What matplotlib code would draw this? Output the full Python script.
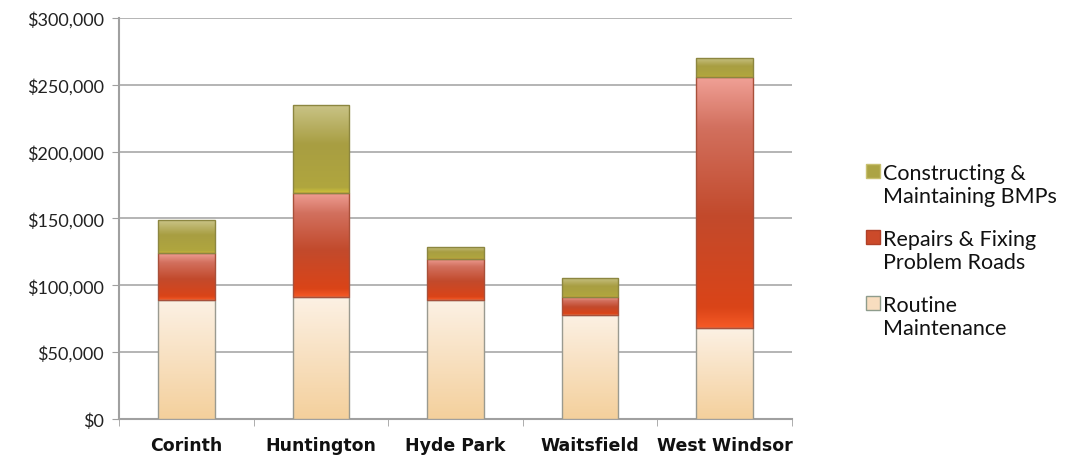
import numpy as np
import matplotlib
matplotlib.use("Agg")
import matplotlib.pyplot as plt
from matplotlib.colors import LinearSegmentedColormap
from matplotlib.patches import Rectangle
from matplotlib.ticker import FuncFormatter

# Road budget by town, stacked by spending category
towns = ["Corinth", "Huntington", "Hyde Park", "Waitsfield", "West Windsor"]
routine = [89000, 91000, 89000, 78000, 68000]
repairs = [35000, 78000, 31000, 13000, 187500]
bmps = [24500, 66000, 9000, 14500, 14500]
legend_lines = [("Constructing &", "Maintaining BMPs"),
                ("Repairs & Fixing", "Problem Roads"),
                ("Routine", "Maintenance")]
y_ticks = [0, 50000, 100000, 150000, 200000, 250000, 300000]

# gradient stops, bottom -> top
grad_routine = [(0.0, "#F4D09C"), (0.5, "#F8E0C0"), (1.0, "#FCF1E4")]
grad_repairs = [(0.0, "#F65A26"), (0.08, "#DA4418"), (0.45, "#C24A2C"),
                (0.8, "#D2705E"), (1.0, "#F0A096")]
grad_bmps = [(0.0, "#CEC23A"), (0.06, "#B0A63E"), (0.55, "#A89E42"),
             (1.0, "#CAC488")]
edge_colors = ["#9A9A90", "#A8503A", "#8C8640"]
# legend swatches, top entry first
swatch_faces = ["#ACA444", "#CC4A2A", "#F8DDBF"]
swatch_edges = ["#C8C070", "#B04028", "#8E9C8C"]

fig = plt.figure(figsize=(10.65, 4.6), dpi=100)
ax = fig.add_axes([0.1117, 0.087, 0.6320, 0.8717])

x = np.arange(len(towns))
width = 0.42
bottoms = np.zeros(len(towns))
layers = [(routine, grad_routine), (repairs, grad_repairs), (bmps, grad_bmps)]
grad = np.linspace(0, 1, 256).reshape(-1, 1)

for i, (vals, stops) in enumerate(layers):
    vals = np.asarray(vals, dtype=float)
    bars = ax.bar(x, vals, width, bottom=bottoms, color="none",
                  edgecolor=edge_colors[i], linewidth=1.0, zorder=4)
    cmap = LinearSegmentedColormap.from_list(f"g{i}", stops)
    for b in bars:
        x0, y0 = b.get_x(), b.get_y()
        w, h = b.get_width(), b.get_height()
        im = ax.imshow(grad, cmap=cmap, origin="lower", aspect="auto",
                       extent=[x0, x0 + w, y0, y0 + h], zorder=3,
                       interpolation="bilinear")
        im.set_clip_path(b)
    bottoms += vals

ax.set_xlim(-0.5, len(towns) - 0.5)
ax.set_ylim(0, 300000)
ax.set_yticks(y_ticks)
ax.yaxis.set_major_formatter(FuncFormatter(lambda v, p: f"${v:,.0f}"))
ax.set_xticks(x)
ax.set_xticklabels(towns, fontfamily="DejaVu Sans", fontweight="bold",
                   fontsize=12.5, color="#111111")
ax.set_xticks(np.arange(-0.5, len(towns) + 0.5, 1), minor=True)
ax.tick_params(axis="x", which="major", length=0, pad=12)
ax.tick_params(axis="x", which="minor", length=5, color="#A0A0A0", direction="out")
ax.tick_params(axis="y", length=5, color="#A0A0A0", direction="out", pad=6)
for lbl in ax.get_yticklabels():
    lbl.set_fontfamily("Lato")
    lbl.set_fontsize(13)
    lbl.set_color("#222222")

ax.grid(axis="y", color="#A8A8A8", linewidth=1.2, zorder=0)
ax.set_axisbelow(True)
for side in ["top", "right"]:
    ax.spines[side].set_visible(False)
for side in ["left", "bottom"]:
    ax.spines[side].set_color("#A0A0A0")
    ax.spines[side].set_linewidth(1.5)

# legend: swatch aligned with the first line of each two-line label
W, H = fig.get_size_inches() * fig.dpi
entry_top = [165, 231, 297]
for k, (l1, l2) in enumerate(legend_lines):
    top = entry_top[k]
    fig.add_artist(Rectangle((866 / W, 1 - (top + 14) / H), 14 / W, 14 / H,
                             transform=fig.transFigure,
                             facecolor=swatch_faces[k],
                             edgecolor=swatch_edges[k], linewidth=1.0))
    for j, line in enumerate((l1, l2)):
        fig.text(883 / W, 1 - (top + 15 + 23 * j) / H, line,
                 family="Lato", fontsize=15.5, color="#111111",
                 va="baseline", ha="left")

fig.savefig("out.png", dpi=100)
